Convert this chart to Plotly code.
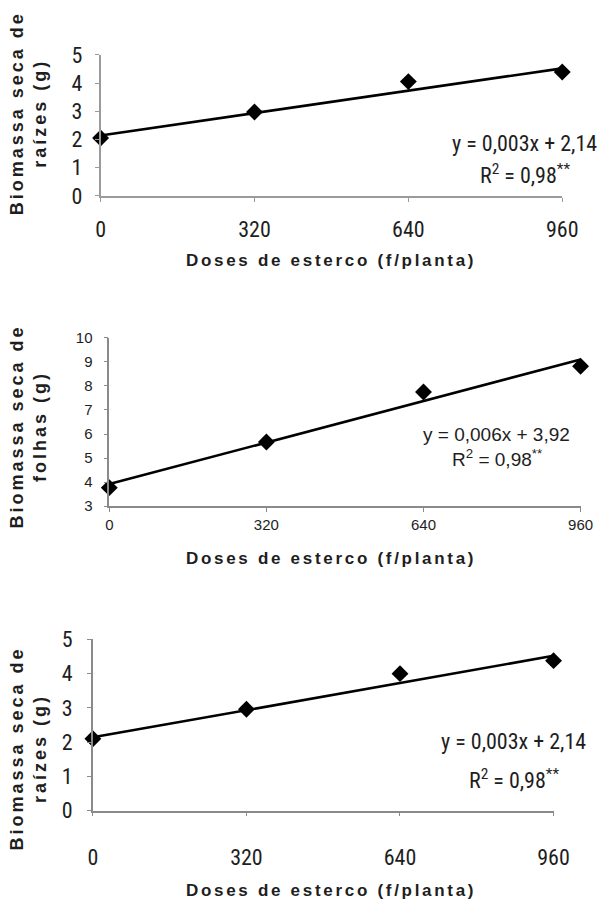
import plotly.graph_objects as go

W, H = 613, 916

# ---------------- data ----------------
doses = [0, 320, 640, 960]
x_ticks = [0, 320, 640, 960]

raizes_a = [2.05, 2.97, 4.05, 4.39]
folhas = [3.77, 5.67, 7.75, 8.82]
raizes_b = [2.10, 2.96, 4.00, 4.38]

trend_x = [0, 960]
trend_raizes_a = [2.14, 4.52]
trend_folhas = [3.92, 9.10]
trend_raizes_b = [2.14, 4.52]

eq_raizes = "y = 0,003x + 2,14"
eq_folhas = "y = 0,006x + 3,92"
r2_text = "R<sup>2</sup> = 0,98<sup>**</sup>"

ytitle_raizes = ["Biomassa seca de", "raízes (g)"]
ytitle_folhas = ["Biomassa seca de", "folhas (g)"]
xtitle = "Doses de esterco (f/planta)"

# ---------------- styling ----------------
NARROW = "Noto Sans Condensed, Roboto Condensed, Liberation Sans Narrow, Liberation Sans, sans-serif"
ARIAL = "Liberation Sans, Arial, sans-serif"
TXT = "#1e1e1e"


def spaced(t, px):
    return f'<span style="letter-spacing:{px}px">{t}</span>'


def cond(t):
    return f'<span style="font-stretch:condensed">{t}</span>'


panels = [
    dict(box=(99, 577, 44, 189), yr=[0, 5], ys=raizes_a, ty=trend_raizes_a, eq=eq_raizes,
         font=NARROW, tsize=22, xso=9, yso=8, axc="#9a9a9a", narrow=True,
         eqpos=(538, 135, 167), eqsize=22, ytit=ytitle_raizes, ytpos=104, xtpos=255),
    dict(box=(108, 596, 335, 508), yr=[3, 10], ys=folhas, ty=trend_folhas, eq=eq_folhas,
         font=ARIAL, tsize=15, xso=0, yso=8, axc="#8a8a8a", narrow=False,
         eqpos=(509, 434, 459), eqsize=19, ytit=ytitle_folhas, ytpos=426, xtpos=562),
    dict(box=(91, 568, 645, 821), yr=[0, 5], ys=raizes_b, ty=trend_raizes_b, eq=eq_raizes,
         font=NARROW, tsize=22, xso=22, yso=10, axc="#8a8a8a", narrow=True,
         eqpos=(527, 750, 789), eqsize=22, ytit=ytitle_raizes, ytpos=757, xtpos=903),
]

fig = go.Figure()
layout = dict(width=W, height=H, margin=dict(l=0, r=0, t=0, b=0),
              paper_bgcolor="white", plot_bgcolor="white", showlegend=False)
annotations = []

for i, p in enumerate(panels, start=1):
    xa = "x" if i == 1 else f"x{i}"
    ya = "y" if i == 1 else f"y{i}"
    L, R, T, B = p["box"]
    wrap = cond if p["narrow"] else (lambda t: t)
    fig.add_trace(go.Scatter(x=trend_x, y=p["ty"], mode="lines",
                             line=dict(color="black", width=2.6),
                             xaxis=xa, yaxis=ya, cliponaxis=False, hoverinfo="skip"))
    fig.add_trace(go.Scatter(x=doses, y=p["ys"], mode="markers",
                             marker=dict(symbol="diamond", size=13, color="black"),
                             xaxis=xa, yaxis=ya, cliponaxis=False))
    yt = list(range(p["yr"][0], p["yr"][1] + 1))
    layout["xaxis" if i == 1 else f"xaxis{i}"] = dict(
        domain=[L / W, R / W], anchor=ya, range=[0, 960],
        tickmode="array", tickvals=x_ticks, ticktext=[wrap(str(v)) for v in x_ticks],
        showgrid=False, zeroline=False, showline=True, linecolor=p["axc"], linewidth=1.5,
        ticks="outside", ticklen=4, tickcolor=p["axc"], tickwidth=1,
        tickfont=dict(family=p["font"], size=p["tsize"], color=TXT),
        ticklabelstandoff=p["xso"],
    )
    layout["yaxis" if i == 1 else f"yaxis{i}"] = dict(
        domain=[1 - B / H, 1 - T / H], anchor=xa, range=p["yr"],
        tickmode="array", tickvals=yt, ticktext=[wrap(str(v)) for v in yt],
        showgrid=False, zeroline=False, showline=True, linecolor=p["axc"], linewidth=1.5,
        ticks="outside", ticklen=4, tickcolor=p["axc"], tickwidth=1,
        tickfont=dict(family=p["font"], size=p["tsize"], color=TXT),
        ticklabelstandoff=p["yso"],
    )
    ex, ey1, ey2 = p["eqpos"]
    annotations.append(dict(xref="paper", yref="paper", x=ex / W, y=1 - ey1 / H,
                            text=wrap(p["eq"]), showarrow=False, xanchor="center", yanchor="middle",
                            font=dict(family=p["font"], size=p["eqsize"], color=TXT)))
    annotations.append(dict(xref="paper", yref="paper", x=ex / W, y=1 - ey2 / H,
                            text=wrap(r2_text), showarrow=False, xanchor="center", yanchor="middle",
                            font=dict(family=p["font"], size=p["eqsize"], color=TXT)))
    annotations.append(dict(xref="paper", yref="paper", x=24 / W, y=1 - p["ytpos"] / H,
                            text="<b>" + spaced(p["ytit"][0], 3) + "<br>" +
                                 spaced(p["ytit"][1], 3) + "</b>",
                            textangle=-90, showarrow=False, xanchor="center", yanchor="middle",
                            font=dict(family=ARIAL, size=18, color=TXT)))
    annotations.append(dict(xref="paper", yref="paper", x=338 / W, y=1 - p["xtpos"] / H,
                            text="<b>" + spaced(xtitle, 2.7) + "</b>",
                            showarrow=False, xanchor="center", yanchor="middle",
                            font=dict(family=ARIAL, size=17, color=TXT)))

layout["annotations"] = annotations
fig.update_layout(**layout)

fit_page = """
document.body.style.margin='0';
document.body.style.overflow='hidden';
"""

fig.write_html("out.html", config={"displayModeBar": False}, post_script=fit_page)
